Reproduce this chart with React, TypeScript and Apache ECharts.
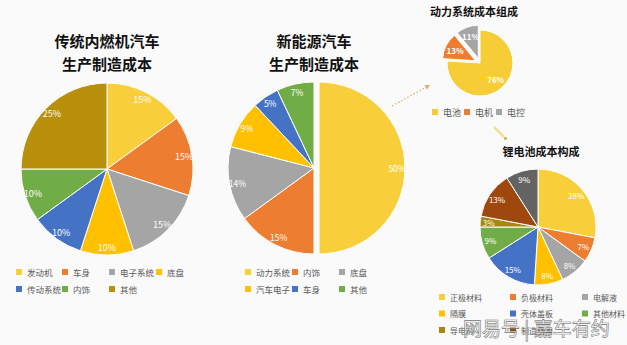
import React, { useEffect, useRef } from 'react';
import * as echarts from 'echarts';

// 传统内燃机汽车 生产制造成本
const iceNames = ['发动机', '车身', '电子系统', '底盘', '传动系统', '内饰', '其他'];
const iceValues = [15, 15, 15, 10, 10, 10, 25];
const iceColors = ['#F8CF3A', '#ED7D31', '#A5A5A5', '#FFC000', '#4472C4', '#70AD47', '#B8900C'];

// 新能源汽车 生产制造成本
const nevNames = ['动力系统', '内饰', '底盘', '汽车电子', '车身', '其他'];
const nevValues = [50, 15, 14, 9, 5, 7];
const nevColors = ['#F8CF3A', '#ED7D31', '#A5A5A5', '#FFC000', '#4472C4', '#70AD47'];

// 动力系统成本组成
const powerNames = ['电池', '电机', '电控'];
const powerValues = [76, 13, 11];
const powerColors = ['#F6CD37', '#ED7D31', '#A5A5A5'];

// 锂电池成本构成
const batteryNames = ['正极材料', '负极材料', '电解液', '隔膜', '壳体盖板', '其他材料', '导电剂', '制造费用', '折旧费用'];
const batteryValues = [28, 7, 8, 8, 15, 9, 3, 13, 9];
const batteryColors = ['#F8CF3A', '#ED7D31', '#A5A5A5', '#FFC000', '#4472C4', '#70AD47', '#A8860C', '#9E480E', '#636363'];

const FONT = '"Noto Sans CJK SC", "Noto Sans", sans-serif';

function pieSeries(
  names: string[], values: number[], colors: string[],
  center: number[], r: number, labelR0: number, fontSize: number,
  selectedNames: string[], fontWeight: string | number = 'normal'
) {
  const hasSel = selectedNames.length > 0;
  const main = {
    type: 'pie',
    center,
    radius: [0, r],
    startAngle: 90,
    clockwise: true,
    selectedMode: hasSel ? 'multiple' : false,
    selectedOffset: 5,
    silent: true,
    emphasis: { disabled: true },
    label: { show: false },
    labelLine: { show: false },
    data: names.map((n, i) => ({
      name: n,
      value: values[i],
      selected: selectedNames.includes(n),
      itemStyle: { color: colors[i], borderColor: '#ffffff', borderWidth: 1 },
      select: { itemStyle: { color: colors[i], borderColor: '#ffffff', borderWidth: 1 } },
    })),
  };
  const labels = {
    type: 'pie',
    center,
    radius: [labelR0, r],
    startAngle: 90,
    clockwise: true,
    selectedMode: hasSel ? 'multiple' : false,
    selectedOffset: 5,
    silent: true,
    legendHoverLink: false,
    emphasis: { disabled: true },
    labelLine: { show: false },
    label: {
      show: true,
      position: 'inside',
      formatter: '{c}%',
      color: '#ffffff',
      fontSize,
      fontWeight,
      fontFamily: FONT,
    },
    data: names.map((n, i) => ({
      name: n,
      value: values[i],
      selected: selectedNames.includes(n),
      itemStyle: { color: 'rgba(0,0,0,0)', borderWidth: 0 },
      select: { itemStyle: { color: 'rgba(0,0,0,0)', borderWidth: 0 } },
    })),
  };
  return [main, labels];
}

function legendCol(
  names: string[], allNames: string[], colors: string[], left: number, top: number,
  fontSize: number, gap: number, orient: string = 'vertical'
) {
  return {
    show: true,
    orient,
    left,
    top,
    padding: 0,
    itemGap: gap,
    itemWidth: 6,
    itemHeight: 6,
    icon: 'rect',
    selectedMode: false,
    textStyle: { fontSize, color: '#595959', lineHeight: 10, fontFamily: FONT },
    data: names.map((n) => ({
      name: n,
      icon: 'rect',
      itemStyle: { color: colors[allNames.indexOf(n)], borderWidth: 0 },
    })),
  };
}

export default function App() {
  const ref = useRef<HTMLDivElement>(null);
  useEffect(() => {
    if (!ref.current) return;
    const chart = echarts.init(ref.current, null, { renderer: 'svg' });
    const series = [
      ...pieSeries(iceNames, iceValues, iceColors, [107, 169], 86, 64, 9, []),
      ...pieSeries(nevNames, nevValues, nevColors, [314, 168], 86, 64, 8.5, ['动力系统']),
      ...pieSeries(powerNames, powerValues, powerColors, [480, 63], 33, 7, 8, ['电机', '电控'], 'bold'),
      ...pieSeries(batteryNames, batteryValues, batteryColors, [538, 227], 58, 35, 8, []),
    ];
    const legend = [
      legendCol(['发动机', '传动系统'], iceNames, iceColors, 16, 267, 8.5, 7),
      legendCol(['车身', '内饰'], iceNames, iceColors, 62, 267, 8.5, 7),
      legendCol(['电子系统', '其他'], iceNames, iceColors, 109, 267, 8.5, 7),
      legendCol(['底盘'], iceNames, iceColors, 156, 267, 8.5, 7),
      legendCol(['动力系统', '汽车电子'], nevNames, nevColors, 245, 267, 8.5, 7),
      legendCol(['内饰', '车身'], nevNames, nevColors, 292, 267, 8.5, 7),
      legendCol(['底盘', '其他'], nevNames, nevColors, 339, 267, 8.5, 7),
      legendCol(powerNames, powerNames, powerColors, 432, 107, 9, 3, 'horizontal'),
      legendCol(['正极材料', '隔膜', '导电剂'], batteryNames, batteryColors, 439, 292, 8, 6.5),
      legendCol(['负极材料', '壳体盖板', '制造费用'], batteryNames, batteryColors, 510, 292, 8, 6.5),
      legendCol(['电解液', '其他材料'], batteryNames, batteryColors, 582, 292, 8, 6.5),
    ];
    const title = (text: string, x: number, y: number, size: number) => ({
      type: 'text',
      x,
      y,
      style: {
        text,
        fill: '#111111',
        font: `bold ${size}px ${FONT}`,
        textAlign: 'center',
        textVerticalAlign: 'middle',
      },
    });
    const graphic = [
      title('传统内燃机汽车', 107, 40, 15),
      title('生产制造成本', 107, 63, 15),
      title('新能源汽车', 314, 40, 15),
      title('生产制造成本', 314, 63, 15),
      title('动力系统成本组成', 474, 11, 11),
      title('锂电池成本构成', 541, 151, 11),
      {
        type: 'line',
        shape: { x1: 392, y1: 106, x2: 428, y2: 86 },
        style: { stroke: '#D9AE66', lineWidth: 1.2, lineDash: [1.5, 2] },
      },
      {
        type: 'polygon',
        shape: { points: [[430, 85], [424.4, 85.3], [426.9, 89.6]] },
        style: { fill: '#D9AE66' },
      },
      {
        type: 'line',
        shape: { x1: 494, y1: 127, x2: 504, y2: 137 },
        style: { stroke: '#EEE38C', lineWidth: 2.5 },
      },
      {
        type: 'circle',
        shape: { cx: 505.5, cy: 138.5, r: 1.6 },
        style: { fill: '#C9B860' },
      },
      {
        type: 'text',
        x: 463,
        y: 327,
        z: 100,
        style: {
          text: '网易号 | 嘉车有约',
          font: `19px ${FONT}`,
          fill: 'rgba(255,255,255,0.55)',
          stroke: '#5a5a5a',
          lineWidth: 0.7,
          textVerticalAlign: 'middle',
        },
      },
    ];
    chart.setOption({
      animation: false,
      backgroundColor: '#FAFAFA',
      legend,
      series,
      graphic,
    });
    return () => chart.dispose();
  }, []);
  return (
    <div
      ref={ref}
      style={{ position: 'absolute', left: 0, top: 0, width: 627, height: 345 }}
    />
  );
}
